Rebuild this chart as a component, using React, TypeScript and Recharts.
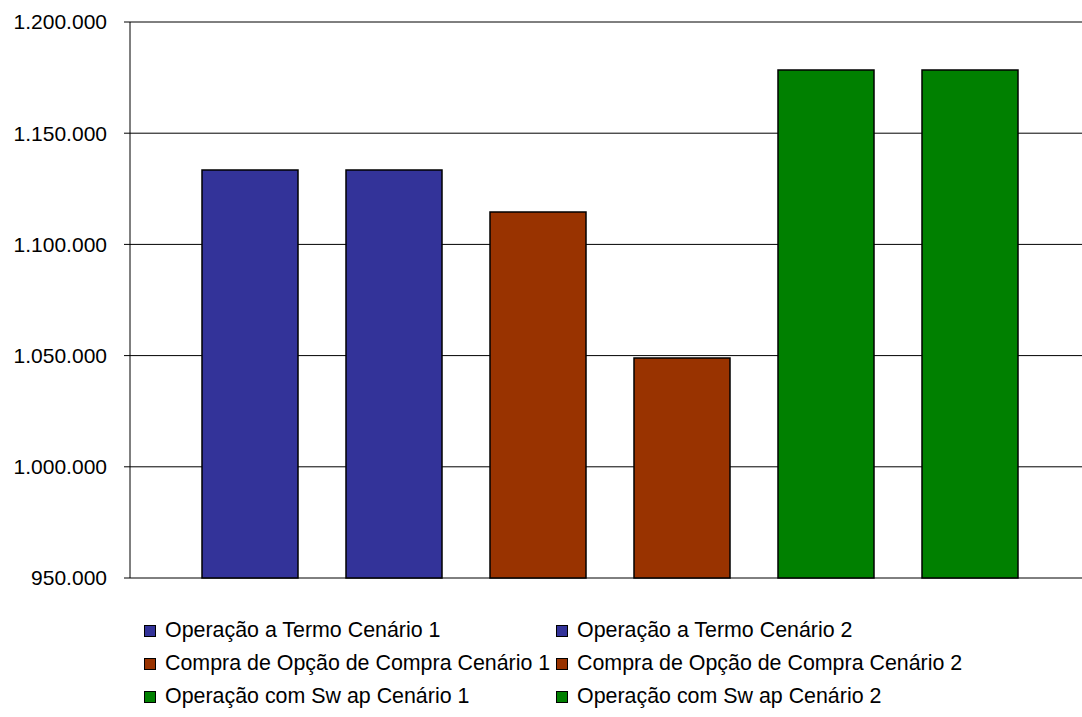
import { BarChart, Bar, XAxis, YAxis, CartesianGrid } from 'recharts'

const categories = ['']

const seriesNames = [
  'Operação a Termo Cenário 1',
  'Operação a Termo Cenário 2',
  'Compra de Opção de Compra Cenário 1',
  'Compra de Opção de Compra Cenário 2',
  'Operação com Sw ap Cenário 1',
  'Operação com Sw ap Cenário 2',
]

const seriesValues = [1133500, 1133500, 1114600, 1048900, 1178400, 1178400]

const seriesColors = ['#333399', '#333399', '#993300', '#993300', '#008000', '#008000']

const yTicks = [950000, 1000000, 1050000, 1100000, 1150000, 1200000]

const FONT = '"Liberation Sans", Arial, sans-serif'

const data = categories.map(name => {
  const row: Record<string, string | number> = { name }
  seriesValues.forEach((v, i) => {
    row[`s${i}`] = v
  })
  return row
})

const fmt = (v: number) => String(v).replace(/\B(?=(\d{3})+(?!\d))/g, '.')

// legend is laid out in two columns, row by row
const legendRows = [0, 2, 4].map(i => [i, i + 1])

export default function App() {
  return (
    <div style={{ position: 'absolute', left: 0, top: 0, width: 1082, height: 717, overflow: 'hidden', background: '#fff' }}>
      <BarChart
        width={1100}
        height={717}
        data={data}
        margin={{ top: 22, right: 11, bottom: 139, left: 0 }}
        barSize={96}
        barGap={48}
      >
        <CartesianGrid vertical={false} stroke="#000" />
        <XAxis dataKey="name" hide />
        <YAxis
          width={130}
          domain={[950000, 1200000]}
          ticks={yTicks}
          interval={0}
          tickFormatter={fmt}
          tickSize={6}
          tickMargin={17}
          axisLine={{ stroke: '#000' }}
          tickLine={{ stroke: '#000' }}
          tick={{ fill: '#000', fontSize: 21, fontFamily: FONT }}
        />
        {seriesNames.map((n, i) => (
          <Bar
            key={n}
            dataKey={`s${i}`}
            name={n}
            fill={seriesColors[i]}
            stroke="#000"
            strokeWidth={1.5}
            isAnimationActive={false}
          />
        ))}
      </BarChart>
      <div style={{ position: 'absolute', left: 144, top: 614, fontFamily: FONT, fontSize: 21.4, color: '#000' }}>
        {legendRows.map((row, r) => (
          <div key={r} style={{ display: 'flex', height: 33, alignItems: 'center' }}>
            {row.map(i => (
              <div key={i} style={{ display: 'flex', alignItems: 'center', width: 412, whiteSpace: 'nowrap' }}>
                <span
                  style={{
                    display: 'inline-block',
                    width: 12,
                    height: 12,
                    boxSizing: 'border-box',
                    border: '1px solid #000',
                    background: seriesColors[i],
                    marginRight: 9,
                  }}
                />
                <span>{seriesNames[i]}</span>
              </div>
            ))}
          </div>
        ))}
      </div>
    </div>
  )
}
